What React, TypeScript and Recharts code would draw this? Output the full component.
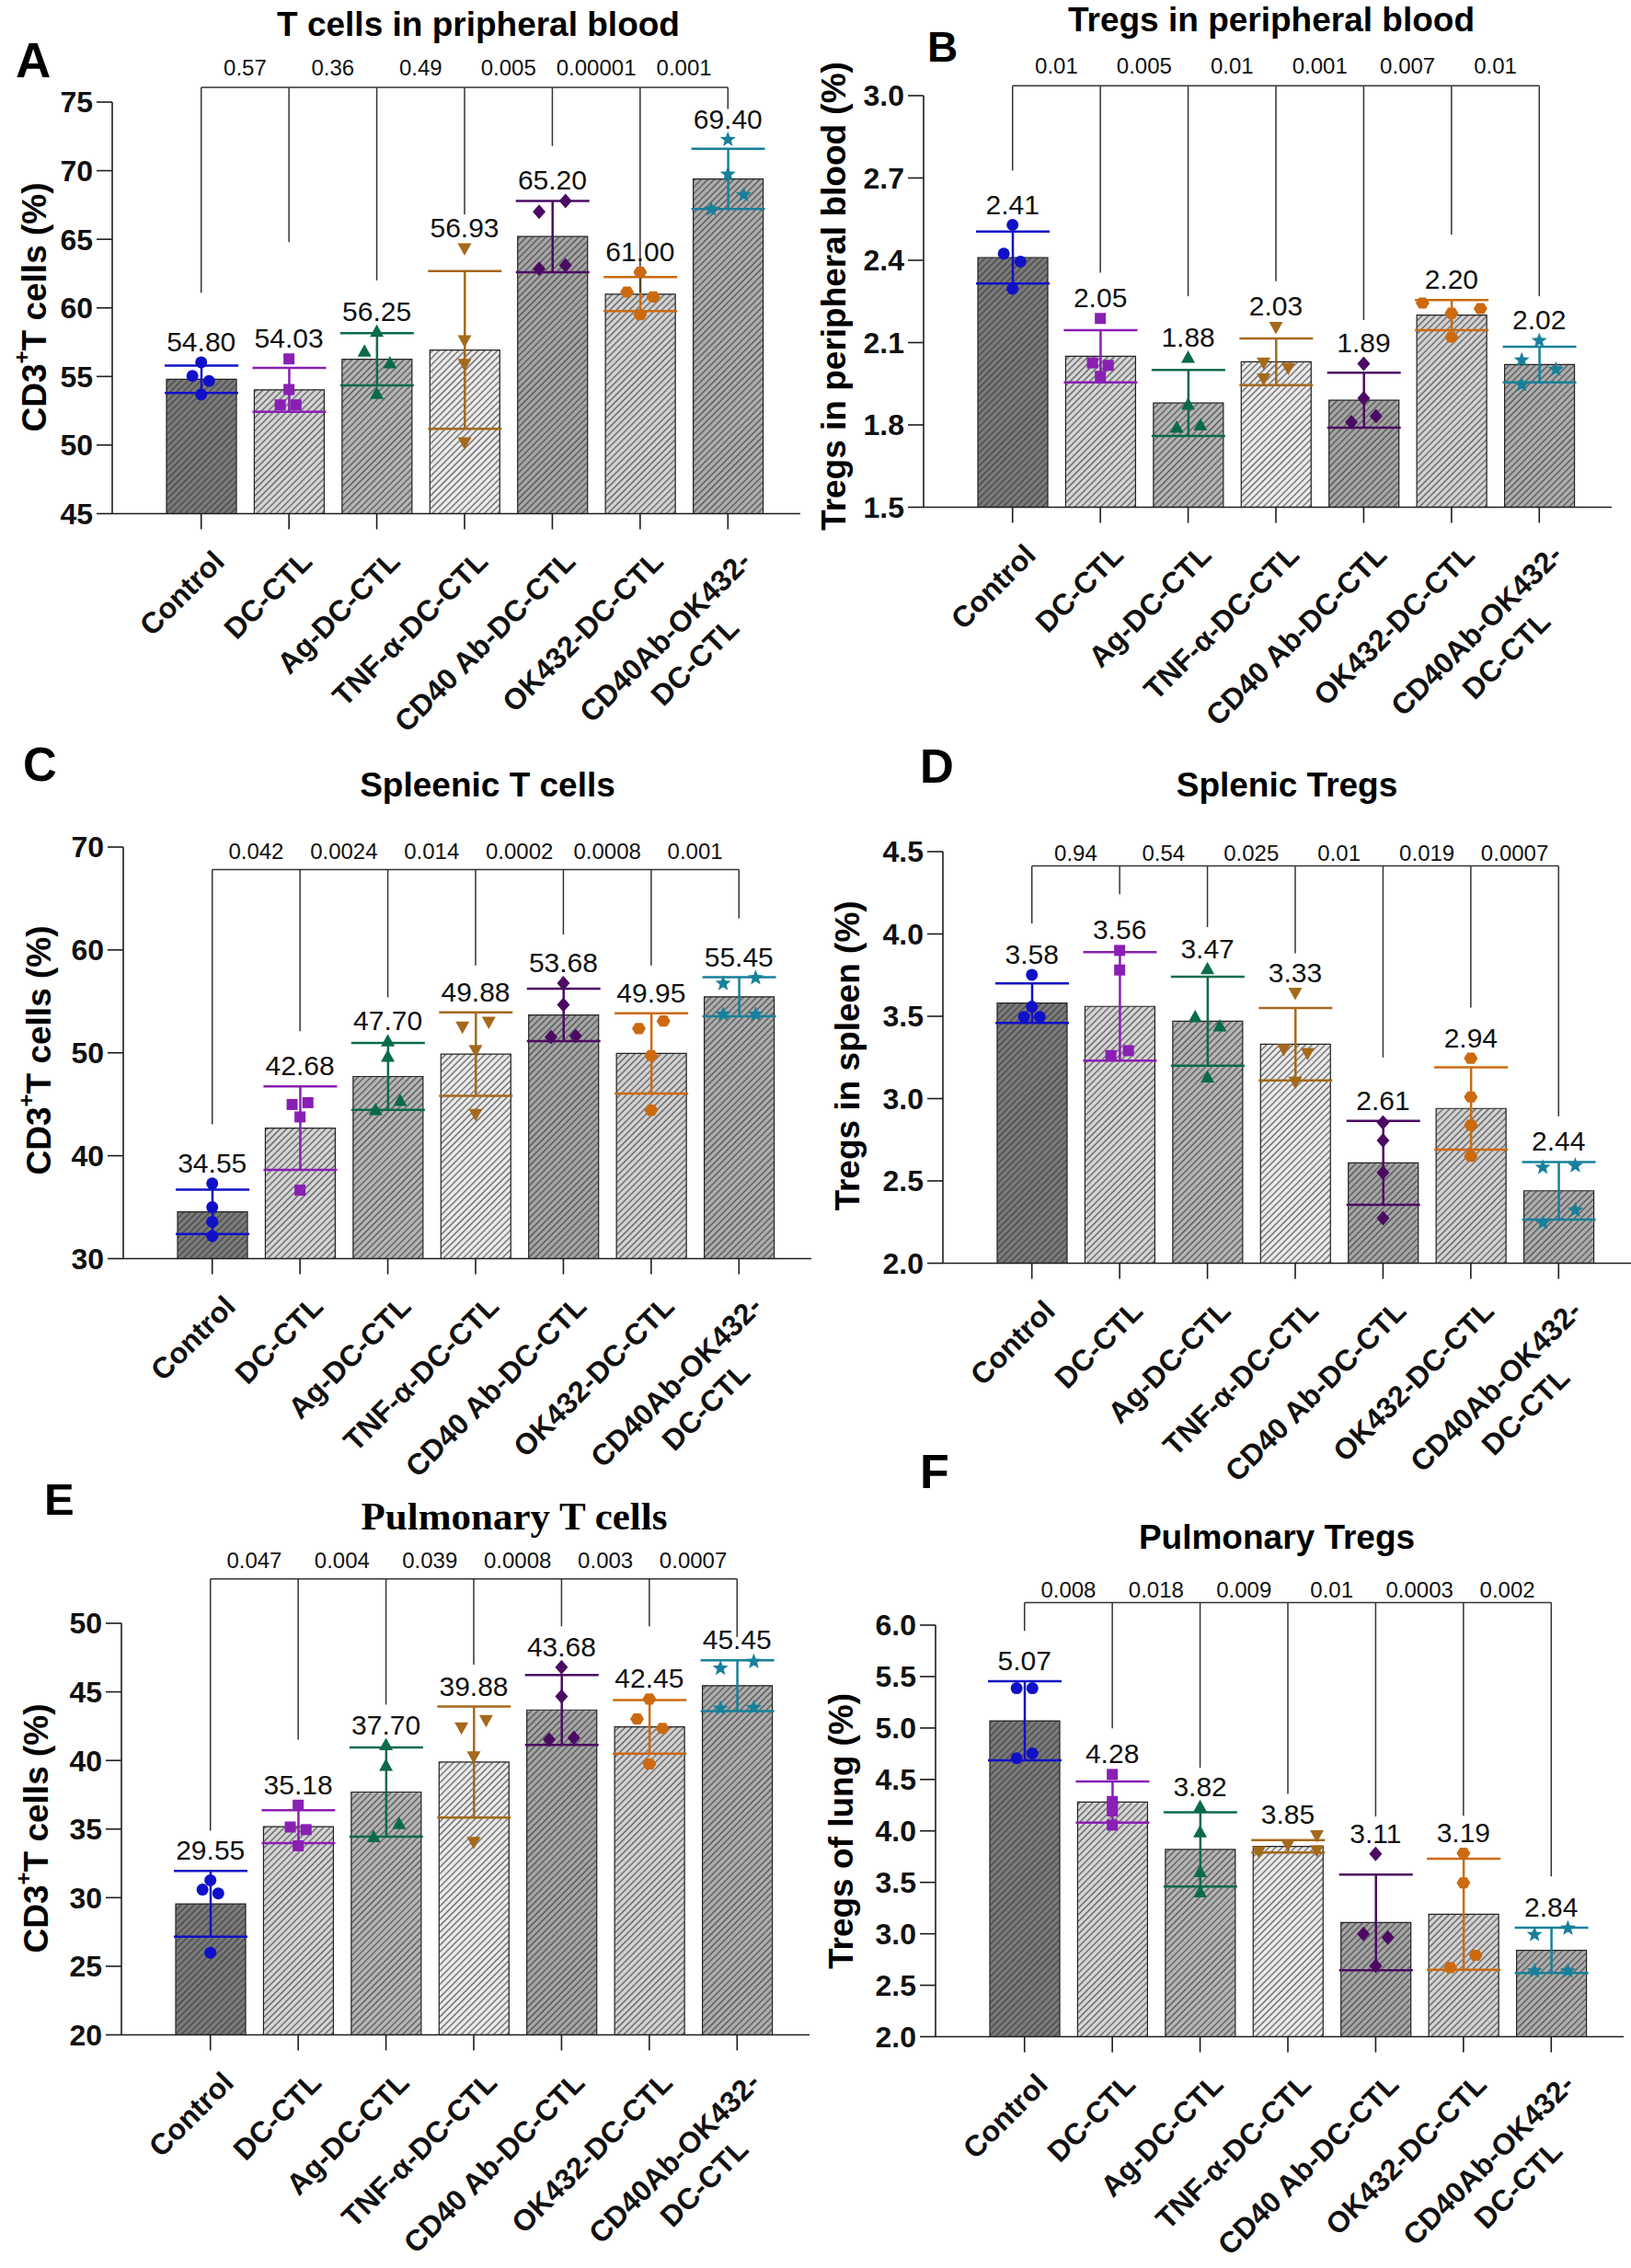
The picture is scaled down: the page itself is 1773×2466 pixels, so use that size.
import React from "react";
import {
  ComposedChart,
  Bar,
  Cell,
  ErrorBar,
  Scatter,
  XAxis,
  YAxis,
  ReferenceLine,
  ReferenceDot,
} from "recharts";

const FONT = '"Liberation Sans", Arial, Helvetica, sans-serif';
const SERIF = '"Liberation Serif", "Times New Roman", serif';
const AX = "#1c1c1c";

const groups = [
  "Control",
  "DC-CTL",
  "Ag-DC-CTL",
  "TNF-α-DC-CTL",
  "CD40 Ab-DC-CTL",
  "OK432-DC-CTL",
  "CD40Ab-OK432-\nDC-CTL",
];
const dotColors = ["#1010c8", "#8a1fb4", "#0a6b4b", "#a5691c", "#4b0b63", "#cc6a10", "#17809a"];
const barFills = ["#7c7c7c", "#d9d9d9", "#b8b8b8", "#efefef", "#a8a8a8", "#d6d6d6", "#b0b0b0"];

// A - T cells in peripheral blood
const aMean = [54.8, 54.03, 56.25, 56.93, 65.2, 61.0, 69.4];
const aSd = [1.0, 1.6, 1.9, 5.75, 2.6, 1.24, 2.2];
const aPts = [
  [56.03, 55.04, 54.67, 53.68],
  [56.28, 54.05, 52.93, 52.93],
  [58.26, 56.82, 55.96, 53.73],
  [64.34, 57.64, 55.91, 50.2],
  [67.0, 67.8, 62.85, 63.1],
  [62.6, 61.16, 60.8, 59.5],
  [72.27, 69.74, 68.23, 67.19],
];
const aDx = [
  [0, -0.1, 0.09, 0],
  [0, 0, -0.1, 0.08],
  [0, -0.14, 0.15, 0],
  [0, 0, 0, 0],
  [-0.15, 0.15, -0.15, 0.15],
  [0, -0.15, 0.15, 0],
  [0, 0, 0.18, -0.19],
];
const aP = ["0.57", "0.36", "0.49", "0.005", "0.00001", "0.001"];
const aLegs = [61.1, 64.8, 62.0, 66.8, 71.8, 61.1, 74.5];
const aTicks = [45, 50, 55, 60, 65, 70, 75];

// B - Tregs in peripheral blood
const bMean = [2.41, 2.05, 1.88, 2.03, 1.89, 2.2, 2.02];
const bSd = [0.095, 0.095, 0.12, 0.085, 0.1, 0.055, 0.065];
const bPts = [
  [2.529, 2.424, 2.395, 2.296],
  [2.188, 2.026, 2.017, 1.977],
  [2.045, 1.874, 1.79, 1.798],
  [2.157, 2.027, 2.008, 1.969],
  [2.023, 1.897, 1.832, 1.81],
  [2.244, 2.224, 2.207, 2.12],
  [2.107, 2.036, 2.002, 1.946],
];
const bDx = [
  [0, -0.1, 0.09, 0],
  [0, -0.09, 0.09, 0],
  [0, 0, -0.13, 0.14],
  [0, -0.14, 0.14, -0.14],
  [0, 0, 0.14, -0.14],
  [-0.33, 0.33, 0, 0],
  [0, -0.2, 0.19, -0.2],
];
const bP = ["0.01", "0.005", "0.01", "0.001", "0.007", "0.01"];
const bLegs = [2.727, 2.355, 2.269, 2.324, 2.182, 2.494, 2.269];
const bTicks = [1.5, 1.8, 2.1, 2.4, 2.7, 3.0];

// C - Spleenic T cells
const cMean = [34.55, 42.68, 47.7, 49.88, 53.68, 49.95, 55.45];
const cSd = [2.15, 4.05, 3.25, 4.05, 2.55, 3.9, 1.9];
const cPts = [
  [37.3, 35.0, 33.58, 32.19],
  [44.98, 45.16, 43.77, 36.65],
  [51.11, 49.62, 45.34, 44.43],
  [52.54, 53.01, 50.27, 44.06],
  [56.78, 54.66, 51.55, 51.63],
  [52.36, 53.09, 49.73, 44.43],
  [56.74, 57.29, 53.74, 53.74],
];
const cDx = [
  [0, 0, 0, 0],
  [-0.09, 0.09, 0, 0],
  [0, 0, 0.14, -0.14],
  [-0.15, 0.15, 0, 0],
  [0, 0, -0.14, 0.14],
  [-0.14, 0.14, 0, 0],
  [-0.18, 0.19, -0.18, 0.19],
];
const cP = ["0.042", "0.0024", "0.014", "0.0002", "0.0008", "0.001"];
const cLegs = [43.04, 52.1, 55.39, 58.49, 61.49, 58.49, 63.06];
const cTicks = [30, 40, 50, 60, 70];

// D - Splenic Tregs
const dMean = [3.58, 3.56, 3.47, 3.33, 2.61, 2.94, 2.44];
const dSd = [0.12, 0.33, 0.27, 0.22, 0.255, 0.25, 0.175];
const dPts = [
  [3.752, 3.558, 3.496, 3.496],
  [3.9, 3.781, 3.261, 3.291],
  [3.786, 3.494, 3.439, 3.129],
  [3.642, 3.3, 3.277, 3.102],
  [2.855, 2.746, 2.55, 2.274],
  [3.245, 3.01, 2.839, 2.65],
  [2.582, 2.593, 2.322, 2.246],
];
const dDx = [
  [0, 0, -0.09, 0.09],
  [0, 0, -0.1, 0.1],
  [0, -0.14, 0.14, 0],
  [0, -0.13, 0.14, 0],
  [0, 0, 0, 0],
  [0, 0, 0, 0],
  [-0.18, 0.19, 0.19, -0.18],
];
const dP = ["0.94", "0.54", "0.025", "0.01", "0.019", "0.0007"];
const dLegs = [4.064, 4.242, 4.042, 3.882, 3.25, 3.553, 2.892];
const dTicks = [2.0, 2.5, 3.0, 3.5, 4.0, 4.5];

// E - Pulmonary T cells
const eMean = [29.55, 35.18, 37.7, 39.88, 43.68, 42.45, 45.45];
const eSd = [2.4, 1.2, 3.25, 4.05, 2.55, 1.95, 1.85];
const ePts = [
  [31.27, 30.59, 30.31, 25.99],
  [36.74, 35.15, 34.96, 33.78],
  [41.11, 39.61, 35.37, 34.41],
  [42.4, 42.94, 40.29, 34.06],
  [46.8, 44.67, 41.52, 41.66],
  [44.48, 43.03, 42.34, 39.75],
  [46.72, 47.21, 43.79, 43.85],
];
const eDx = [
  [0, -0.09, 0.09, 0],
  [0, -0.09, 0.09, 0],
  [0, 0, 0.15, -0.14],
  [-0.14, 0.14, 0, 0],
  [0, 0, -0.14, 0.14],
  [0, -0.14, 0.15, 0],
  [-0.19, 0.19, -0.19, 0.19],
];
const eP = ["0.047", "0.004", "0.039", "0.0008", "0.003", "0.0007"];
const eLegs = [34.88, 41.52, 44.07, 46.99, 49.78, 49.78, 49.0];
const eTicks = [20, 25, 30, 35, 40, 45, 50];

// F - Pulmonary Tregs
const fMean = [5.07, 4.28, 3.82, 3.85, 3.11, 3.19, 2.84];
const fSd = [0.385, 0.2, 0.36, 0.06, 0.465, 0.54, 0.22];
const fPts = [
  [5.387, 5.387, 4.706, 4.753],
  [4.549, 4.286, 4.195, 4.056],
  [4.232, 3.987, 3.601, 3.404],
  [3.958, 3.801, 3.867, 3.812],
  [3.776, 3.0, 2.963, 2.689],
  [3.783, 3.495, 2.791, 2.671],
  [2.992, 3.054, 2.638, 2.638],
];
const fDx = [
  [-0.09, 0.09, -0.09, 0.09],
  [0, 0, 0, 0],
  [0, 0, 0, 0],
  [0.33, -0.33, 0, 0.33],
  [0, -0.14, 0.14, 0],
  [0, 0, 0.14, -0.15],
  [-0.19, 0.19, -0.19, 0.19],
];
const fP = ["0.008", "0.018", "0.009", "0.01", "0.0003", "0.002"];
const fLegs = [5.945, 4.997, 4.614, 4.359, 4.14, 4.148, 3.557];
const fTicks = [2.0, 2.5, 3.0, 3.5, 4.0, 4.5, 5.0, 5.5, 6.0];

const PLOT_W = 748;
const PLOT_H = 447.5;
const AXIS_W = 80;
const TOP_M = 90;
const XAX_H = 250;
const RIGHT_M = 10;
const HATCH = 5;

const panels = [
  { id: "A", x0: 122.3, top: 111, mean: aMean, sd: aSd, pts: aPts, dx: aDx, pv: aP, legs: aLegs, bracket: 76.07, pY: 77.5, ticks: aTicks, digits: 0 },
  { id: "B", x0: 1004, top: 103.6, mean: bMean, sd: bSd, pts: bPts, dx: bDx, pv: bP, legs: bLegs, bracket: 3.036, pY: 3.108, ticks: bTicks, digits: 1 },
  { id: "C", x0: 133.6, top: 920.8, mean: cMean, sd: cSd, pts: cPts, dx: cDx, pv: cP, legs: cLegs, bracket: 67.81, pY: 69.63, ticks: cTicks, digits: 0 },
  { id: "D", x0: 1025.2, top: 925.7, mean: dMean, sd: dSd, pts: dPts, dx: dDx, pv: dP, legs: dLegs, bracket: 4.413, pY: 4.49, ticks: dTicks, digits: 1 },
  { id: "E", x0: 132.4, top: 1765.3, mean: eMean, sd: eSd, pts: ePts, dx: eDx, pv: eP, legs: eLegs, bracket: 53.23, pY: 54.59, ticks: eTicks, digits: 0 },
  { id: "F", x0: 1016.7, top: 1767.3, mean: fMean, sd: fSd, pts: fPts, dx: fDx, pv: fP, legs: fLegs, bracket: 6.219, pY: 6.346, ticks: fTicks, digits: 1 },
];

function Marker({ kind, cx, cy, color }: any) {
  if (cx == null || cy == null) return null;
  if (kind === 0) return <circle cx={cx} cy={cy} r={6.5} fill={color} />;
  if (kind === 1) return <rect x={cx - 6} y={cy - 6} width={12} height={12} fill={color} />;
  if (kind === 2)
    return <polygon points={`${cx},${cy - 8} ${cx - 7.5},${cy + 5.5} ${cx + 7.5},${cy + 5.5}`} fill={color} />;
  if (kind === 3)
    return <polygon points={`${cx - 7.5},${cy - 5.5} ${cx + 7.5},${cy - 5.5} ${cx},${cy + 8}`} fill={color} />;
  if (kind === 4)
    return <polygon points={`${cx},${cy - 8} ${cx + 7},${cy} ${cx},${cy + 8} ${cx - 7},${cy}`} fill={color} />;
  if (kind === 5) {
    const p = [0, 60, 120, 180, 240, 300]
      .map((a) => `${cx + 7.5 * Math.cos((a * Math.PI) / 180)},${cy + 7 * Math.sin((a * Math.PI) / 180)}`)
      .join(" ");
    return <polygon points={p} fill={color} />;
  }
  const star = [];
  for (let k = 0; k < 10; k++) {
    const r = k % 2 === 0 ? 9 : 3.8;
    const a = (Math.PI / 5) * k - Math.PI / 2;
    star.push(`${cx + r * Math.cos(a)},${cy + r * Math.sin(a)}`);
  }
  return <polygon points={star.join(" ")} fill={color} />;
}

function GroupTick(props: any) {
  const { x, y, payload } = props;
  const lines = String(payload.value).split("\n");
  const style = { fontSize: 32, fontWeight: 700, fontFamily: FONT, fill: "#111" };
  return (
    <g transform={`translate(${x + 27},${y + 35}) rotate(-45)`}>
      <text x={0} y={0} textAnchor="end" {...style}>
        {lines[0]}
      </text>
      {lines.length > 1 && (
        <text x={-120} y={42} textAnchor="middle" {...style}>
          {lines[1]}
        </text>
      )}
    </g>
  );
}

function Panel({ p }: any) {
  const rows = groups.map((name, i) => ({ name, mean: p.mean[i], [`e${i}`]: p.sd[i] }));
  const tops = p.mean.map((m: number, i: number) => ({
    x: i,
    y: Math.max(m + p.sd[i], ...p.pts[i]),
    t: m.toFixed(2),
  }));
  const lo = p.ticks[0];
  const hi = p.ticks[p.ticks.length - 1];
  return (
    <div style={{ position: "absolute", left: p.x0 - AXIS_W, top: p.top - TOP_M }}>
      <ComposedChart
        width={AXIS_W + PLOT_W + RIGHT_M}
        height={TOP_M + PLOT_H + XAX_H}
        data={rows}
        margin={{ top: TOP_M, right: RIGHT_M, left: 0, bottom: 0 }}
      >
        <defs>
          {barFills.map((f, i) => (
            <pattern
              key={i}
              id={`${p.id}-h${i}`}
              patternUnits="userSpaceOnUse"
              width={HATCH}
              height={HATCH}
              patternTransform="rotate(45)"
            >
              <rect width={HATCH} height={HATCH} fill={f} />
              <line x1={HATCH / 2} y1={0} x2={HATCH / 2} y2={HATCH} stroke="#333" strokeOpacity={0.75} strokeWidth={1.4} />
            </pattern>
          ))}
        </defs>
        <XAxis
          xAxisId="cat"
          dataKey="name"
          type="category"
          interval={0}
          height={XAX_H}
          padding={{ left: 49, right: 31 }}
          tickSize={17}
          tick={(t: any) => <GroupTick {...t} />}
          axisLine={{ stroke: AX, strokeWidth: 1.6 }}
          tickLine={{ stroke: AX, strokeWidth: 1.6 }}
        />
        <XAxis
          xAxisId="pts"
          dataKey="x"
          type="number"
          domain={[-0.5, 6.5]}
          allowDataOverflow
          hide
          padding={{ left: 49, right: 31 }}
        />
        <YAxis
          width={AXIS_W}
          domain={[lo, hi]}
          ticks={p.ticks}
          interval={0}
          allowDataOverflow
          tickSize={17}
          tickMargin={4}
          tickFormatter={(v: number) => v.toFixed(p.digits)}
          tick={{ fontSize: 32, fontWeight: 700, fontFamily: FONT, fill: "#111" }}
          axisLine={{ stroke: AX, strokeWidth: 1.6 }}
          tickLine={{ stroke: AX, strokeWidth: 1.6 }}
        />
        <Bar xAxisId="cat" dataKey="mean" barSize={76} stroke="#222" strokeWidth={1.2} isAnimationActive={false}>
          {barFills.map((_, i) => (
            <Cell key={i} fill={`url(#${p.id}-h${i})`} />
          ))}
          {groups.map((_, i) => (
            <ErrorBar
              key={i}
              dataKey={`e${i}`}
              width={40}
              stroke={dotColors[i]}
              strokeWidth={2.5}
              isAnimationActive={false}
            />
          ))}
        </Bar>
        {groups.map((_, i) => (
          <Scatter
            key={`s${i}`}
            xAxisId="pts"
            dataKey="y"
            data={p.pts[i].map((v: number, k: number) => ({ x: i + p.dx[i][k], y: v }))}
            isAnimationActive={false}
            shape={(s: any) => <Marker kind={i} cx={s.cx} cy={s.cy} color={dotColors[i]} />}
          />
        ))}
        <Scatter
          xAxisId="pts"
          dataKey="y"
          data={tops}
          isAnimationActive={false}
          shape={(s: any) => (
            <text x={s.cx} y={s.cy - 12} textAnchor="middle" fontSize={30} fontFamily={FONT} fill="#111">
              {s.payload.t}
            </text>
          )}
        />
        <ReferenceLine
          xAxisId="pts"
          segment={[
            { x: 0, y: p.bracket },
            { x: 6, y: p.bracket },
          ]}
          stroke="#333"
          strokeWidth={1.5}
          ifOverflow="visible"
        />
        {p.legs.map((l: number, i: number) => (
          <ReferenceLine
            key={`l${i}`}
            xAxisId="pts"
            segment={[
              { x: i, y: p.bracket },
              { x: i, y: l },
            ]}
            stroke="#333"
            strokeWidth={1.5}
            ifOverflow="visible"
          />
        ))}
        {p.pv.map((v: string, i: number) => (
          <ReferenceDot
            key={`p${i}`}
            xAxisId="pts"
            x={i + 0.5}
            y={p.pY}
            r={0}
            fill="none"
            stroke="none"
            ifOverflow="visible"
            label={{ value: v, position: "center", fontSize: 24, fontFamily: FONT, fill: "#111" }}
          />
        ))}
      </ComposedChart>
    </div>
  );
}

const letters = [
  { t: "A", x: 17, y: 84, s: 53 },
  { t: "B", x: 1008, y: 67, s: 46 },
  { t: "C", x: 25, y: 849, s: 51 },
  { t: "D", x: 1000, y: 851, s: 51 },
  { t: "E", x: 48, y: 1647, s: 49 },
  { t: "F", x: 1000, y: 1618, s: 52 },
];

const titles = [
  { t: "T cells in pripheral blood", x: 520, y: 39, serif: false },
  { t: "Tregs in peripheral blood", x: 1382, y: 34, serif: false },
  { t: "Spleenic T cells", x: 530, y: 866, serif: false },
  { t: "Splenic Tregs", x: 1399, y: 866, serif: false },
  { t: "Pulmonary T cells", x: 559, y: 1663, serif: true },
  { t: "Pulmonary Tregs", x: 1388, y: 1684, serif: false },
];

const yTitles = [
  { t: "cd3", x: 37, y: 334 },
  { t: "Tregs in peripheral blood (%)", x: 906, y: 322 },
  { t: "cd3", x: 42, y: 1142 },
  { t: "Tregs in spleen (%)", x: 921, y: 1148 },
  { t: "cd3", x: 39, y: 1988 },
  { t: "Tregs of lung (%)", x: 914, y: 1991 },
];

export default function App() {
  return (
    <div style={{ position: "absolute", left: 0, top: 0, width: 1773, height: 2466, background: "#fff" }}>
      {panels.map((p) => (
        <Panel key={p.id} p={p} />
      ))}
      <svg
        width={1773}
        height={2466}
        style={{ position: "absolute", left: 0, top: 0, pointerEvents: "none" }}
      >
        {letters.map((l) => (
          <text key={l.t} x={l.x} y={l.y} fontSize={l.s} fontWeight={700} fontFamily={FONT} fill="#000">
            {l.t}
          </text>
        ))}
        {titles.map((t) => (
          <text
            key={t.t}
            x={t.x}
            y={t.y}
            textAnchor="middle"
            fontSize={t.serif ? 43 : 37}
            fontWeight={700}
            fontFamily={t.serif ? SERIF : FONT}
            fill="#000"
          >
            {t.t}
          </text>
        ))}
        {yTitles.map((t, i) => (
          <text
            key={i}
            transform={`translate(${t.x},${t.y}) rotate(-90)`}
            textAnchor="middle"
            dominantBaseline="central"
            fontSize={37}
            fontWeight={700}
            fontFamily={FONT}
            fill="#000"
          >
            {t.t === "cd3" ? (
              <>
                <tspan>CD3</tspan>
                <tspan dy={-14} fontSize={24}>
                  +
                </tspan>
                <tspan dy={14}>T cells (%)</tspan>
              </>
            ) : (
              t.t
            )}
          </text>
        ))}
      </svg>
    </div>
  );
}
